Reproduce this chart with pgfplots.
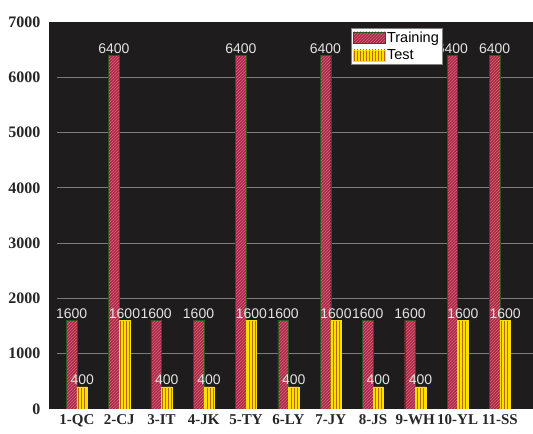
\documentclass[border=0pt]{standalone}
\usepackage{fontspec}
\setmainfont{Liberation Serif}
\newfontfamily\arialf{Liberation Sans}
\usepackage{pgfplots}
\pgfplotsset{compat=1.18}
\usetikzlibrary{patterns}
\definecolor{bg}{RGB}{30,28,28}
\definecolor{trainfill}{RGB}{170,42,72}
\definecolor{trainline}{RGB}{232,115,138}
\definecolor{trainborder}{RGB}{45,85,35}
\definecolor{testfill}{RGB}{255,222,0}
\definecolor{testline}{RGB}{185,105,0}
\definecolor{gridc}{RGB}{125,125,125}
\definecolor{lbl}{RGB}{228,228,228}
\begin{document}
\begin{tikzpicture}
\begin{axis}[
  scale only axis, width=484pt, height=387pt,
  ybar=0pt, bar width=0.25,
  xmin=-0.66, xmax=10.78, ymin=0, ymax=7000,
  xtick=data,
  xticklabels={1-QC,2-CJ,3-IT,4-JK,5-TY,6-LY,7-JY,8-JS,9-WH,10-YL,11-SS},
  ytick={0,1000,2000,3000,4000,5000,6000,7000},
  /pgf/number format/assume math mode=true,
  /pgf/number format/set thousands separator={},
  scaled y ticks=false,
  axis background/.style={fill=bg},
  axis line style={draw=none},
  major tick length=0pt,
  tick label style={text=black!85},
  yticklabel style={xshift=-5pt, font=\bfseries\fontsize{16}{16}\selectfont},
  xticklabel style={yshift=-2pt, font=\bfseries\fontsize{15}{15}\selectfont},
  nodes near coords,
  every node near coord/.append style={font=\arialf\fontsize{14}{14}\selectfont, text=lbl, inner sep=1.5pt},
  legend image code/.code={\draw[#1] (0pt,-5.5pt) rectangle (32pt,5.5pt);},
  legend style={at={(0.624,0.985)}, anchor=north west, fill=white, draw=gray,
    font=\arialf\fontsize{14.5}{14.5}\selectfont, inner sep=2pt, row sep=3pt,
    nodes={inner sep=1.5pt}},
  legend cell align=left,
]
\pgfplotsinvokeforeach{1000,2000,3000,4000,5000,6000}{
  \draw[gridc, line width=0.9pt] ({rel axis cs:0.0165,0}|-{axis cs:0,#1}) -- ({rel axis cs:1,0}|-{axis cs:0,#1});
}
\addplot[draw=trainborder, fill=trainfill, postaction={pattern=north east lines, pattern color=trainline}]
  coordinates {(0,1600) (1,6400) (2,1600) (3,1600) (4,6400) (5,1600) (6,6400) (7,1600) (8,1600) (9,6400) (10,6400)};
\addplot[draw=testfill, fill=testfill, postaction={pattern=vertical lines, pattern color=testline}]
  coordinates {(0,400) (1,1600) (2,400) (3,400) (4,1600) (5,400) (6,1600) (7,400) (8,400) (9,1600) (10,1600)};
\legend{Training,Test}
\coordinate (bbsw) at (rel axis cs:0,0);
\coordinate (bbne) at (rel axis cs:1,1);
\end{axis}
\path ([shift={(-49pt,-25pt)}]bbsw) rectangle ([shift={(0pt,22pt)}]bbne);
\end{tikzpicture}
\end{document}
